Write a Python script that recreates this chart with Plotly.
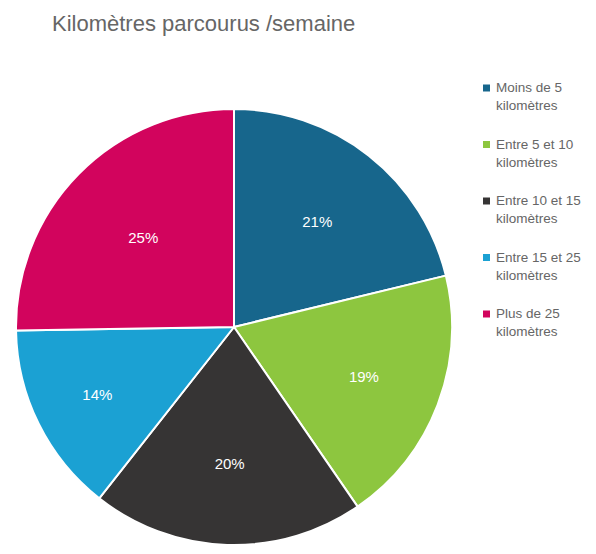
import plotly.graph_objects as go

labels = ["Moins de 5", "Entre 5 et 10", "Entre 10 et 15", "Entre 15 et 25", "Plus de 25"]
unit_line = "kilomètres"
values = [21, 19, 20, 14, 25]
colors = ["#17668c", "#8dc63f", "#363434", "#1ba1d3", "#d2045d"]
text_labels = [f"{v}%" for v in values]

# the page body has an 8px margin, so the figure sits at (8, 8) in the window
OFF = 8
W, H = 596 - OFF, 554 - OFF


def px(x):
    return (x - OFF) / W


def py(y):
    return 1 - (y - OFF) / H


fig = go.Figure()
fig.add_trace(go.Pie(
    labels=labels,
    values=values,
    text=text_labels,
    textinfo="text",
    textposition="inside",
    insidetextorientation="horizontal",
    textfont=dict(color="white", size=15, family="Liberation Sans, Arial, sans-serif"),
    marker=dict(colors=colors, line=dict(color="white", width=2)),
    sort=False,
    direction="clockwise",
    rotation=0,
    showlegend=False,
    domain=dict(x=[px(16), px(452)], y=[py(545), py(109)]),
))

# legend drawn by hand so the item spacing matches
for i, (lab, col) in enumerate(zip(labels, colors)):
    yc = 88 + i * 56.5
    fig.add_shape(type="rect", xref="paper", yref="paper",
                  x0=px(483), x1=px(490), y0=py(yc + 3.5), y1=py(yc - 3.5),
                  fillcolor=col, line=dict(width=0))
    fig.add_annotation(xref="paper", yref="paper", x=px(494), y=py(yc - 10),
                       xanchor="left", yanchor="top", align="left", showarrow=False,
                       text=f"{lab}<br>{unit_line}",
                       font=dict(size=13.5, color="#666666",
                                 family="Liberation Sans Narrow, Liberation Sans, Arial, sans-serif"))

fig.update_layout(
    width=W,
    height=H,
    title=dict(
        text="Kilomètres parcourus /semaine",
        x=px(52), xanchor="left",
        y=py(23), yanchor="middle",
        font=dict(size=22, color="#666666", family="Liberation Sans, Arial, sans-serif"),
        pad=dict(l=0, r=0, t=0, b=0),
    ),
    showlegend=False,
    margin=dict(l=0, r=0, t=0, b=0),
    paper_bgcolor="white",
    plot_bgcolor="white",
)

fig.write_html("out.html")
